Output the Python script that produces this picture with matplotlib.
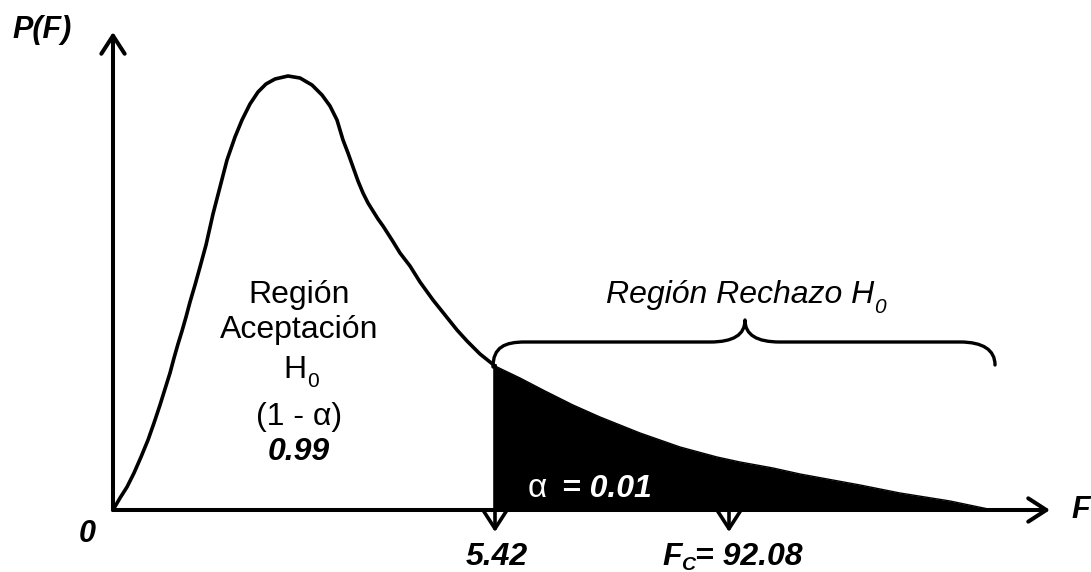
import matplotlib
matplotlib.use("Agg")
import matplotlib.pyplot as plt
from matplotlib.path import Path
from matplotlib.patches import PathPatch

plt.rcParams['font.family'] = ['Liberation Sans', 'DejaVu Sans']

# ---- data (schematic F-distribution, arbitrary units; origin at 0,0) ----
body_x = [0, 7, 14, 21, 28, 35, 41, 47, 52, 57, 61, 65, 69, 73, 77, 82, 87, 93,
          100, 107, 114, 122, 129, 137, 145, 153, 162, 175, 187, 199, 209, 217,
          224, 230, 235, 240, 245, 250, 255, 260, 265, 270, 279, 287, 297, 307,
          320, 332, 344, 354, 367, 382]
body_y = [0, 12, 23, 37, 53, 70, 87, 105, 121, 137, 152, 166, 179, 193, 208, 225,
          243, 265, 296, 323, 350, 373, 390, 406, 418, 426, 431, 434, 432, 425,
          415, 404, 390, 370, 357, 343, 329, 317, 307, 299, 291, 284, 270, 257,
          244, 228, 210, 195, 180, 169, 156, 144]
tail_x = [382, 407, 432, 460, 487, 527, 567, 604, 627, 660, 687, 747, 787, 837, 880]
tail_y = [144, 132, 119, 105, 93, 77, 63, 53, 48, 42, 36, 25, 17, 9, 0]

f_crit = 382      # position of 5.42
f_calc = 616      # position of Fc = 92.08
x_axis_end = 937
y_axis_end = 478

crit_label = "5.42"
calc_label_value = "= 92.08"
alpha_value = "= 0.01"
accept_value = "0.99"

# ---- figure ----
fig = plt.figure(figsize=(10.91, 5.72), dpi=100)
ax = fig.add_axes([0, 0, 1, 1])
ax.set_xlim(-113, 978)
ax.set_ylim(-62, 510)
ax.axis('off')

LW = 2.6
arrow_style = '->,head_length=0.65,head_width=0.42'


def arrow(tip, start, lw):
    ax.annotate('', xy=tip, xytext=start,
                arrowprops=dict(arrowstyle=arrow_style, lw=lw, color='black',
                                mutation_scale=20, shrinkA=0, shrinkB=0,
                                capstyle='round', joinstyle='round'))


# axes with open arrowheads
arrow((x_axis_end, 0), (0, 0), 2.9)
arrow((0, y_axis_end), (0, 0), 2.9)

# curve
ax.plot(body_x, body_y, color='black', lw=LW, solid_capstyle='round', solid_joinstyle='round')
ax.fill_between(tail_x, tail_y, 0, color='black', lw=0)
ax.plot(tail_x, tail_y, color='black', lw=1.0)
ax.plot([f_crit, f_crit], [0, tail_y[0]], color='black', lw=LW)

# down arrows at critical & calculated values
for xv in (f_crit, f_calc):
    arrow((xv, -22), (xv, 0), 2.6)

# brace over rejection region
verts = [(380, 143),
         (380, 163), (392, 168), (412, 168),
         (597, 168),
         (620, 168), (632, 175), (632, 190),
         (632, 175), (644, 168), (667, 168),
         (847, 168),
         (870, 168), (882, 160), (882, 145)]
codes = [Path.MOVETO,
         Path.CURVE4, Path.CURVE4, Path.CURVE4,
         Path.LINETO,
         Path.CURVE4, Path.CURVE4, Path.CURVE4,
         Path.CURVE4, Path.CURVE4, Path.CURVE4,
         Path.LINETO,
         Path.CURVE4, Path.CURVE4, Path.CURVE4]
ax.add_patch(PathPatch(Path(verts, codes), fill=False, lw=2.4, edgecolor='black',
                       capstyle='round', joinstyle='round'))

# ---- texts ----
bi = dict(fontweight='bold', fontstyle='italic', color='black')
ax.text(-71, 480, "P(F)", fontsize=22, ha='center', va='center', **bi)
ax.text(-26, -24, "0", fontsize=22, ha='center', va='center', **bi)
ax.text(958, 0, "F", fontsize=22, ha='left', va='center', **bi)

ax.text(f_crit + 2, -55, crit_label, fontsize=23, ha='center', va='baseline', **bi)
ax.text(549, -55, "F", fontsize=23, ha='left', va='baseline', **bi)
ax.text(568, -60, "C", fontsize=14, ha='left', va='baseline', **bi)
ax.text(582, -55, calc_label_value, fontsize=23, ha='left', va='baseline', **bi)

# alpha in shaded area
ax.text(415, 13, "α", fontsize=24, ha='left', va='baseline', color='white')
ax.text(449, 13, alpha_value, fontsize=23, ha='left', va='baseline',
        fontweight='bold', fontstyle='italic', color='white')

# acceptance region
cx = 186
ax.text(cx, 207, "Región", fontsize=23, ha='center', va='baseline')
ax.text(cx, 172, "Aceptación", fontsize=23, ha='center', va='baseline')
ax.text(cx + 8, 132, "H", fontsize=23, ha='right', va='baseline')
ax.text(cx + 8, 123, "0", fontsize=15, ha='left', va='baseline')
ax.text(cx, 85, "(1 - α)", fontsize=23, ha='center', va='baseline')
ax.text(cx, 50, accept_value, fontsize=23, ha='center', va='baseline', **bi)

# rejection region label
ax.text(493, 207, "Región Rechazo H", fontsize=23, ha='left', va='baseline', fontstyle='italic')
ax.text(761, 197, "0", fontsize=15, ha='left', va='baseline', fontstyle='italic')

fig.savefig("out.png", dpi=100)
